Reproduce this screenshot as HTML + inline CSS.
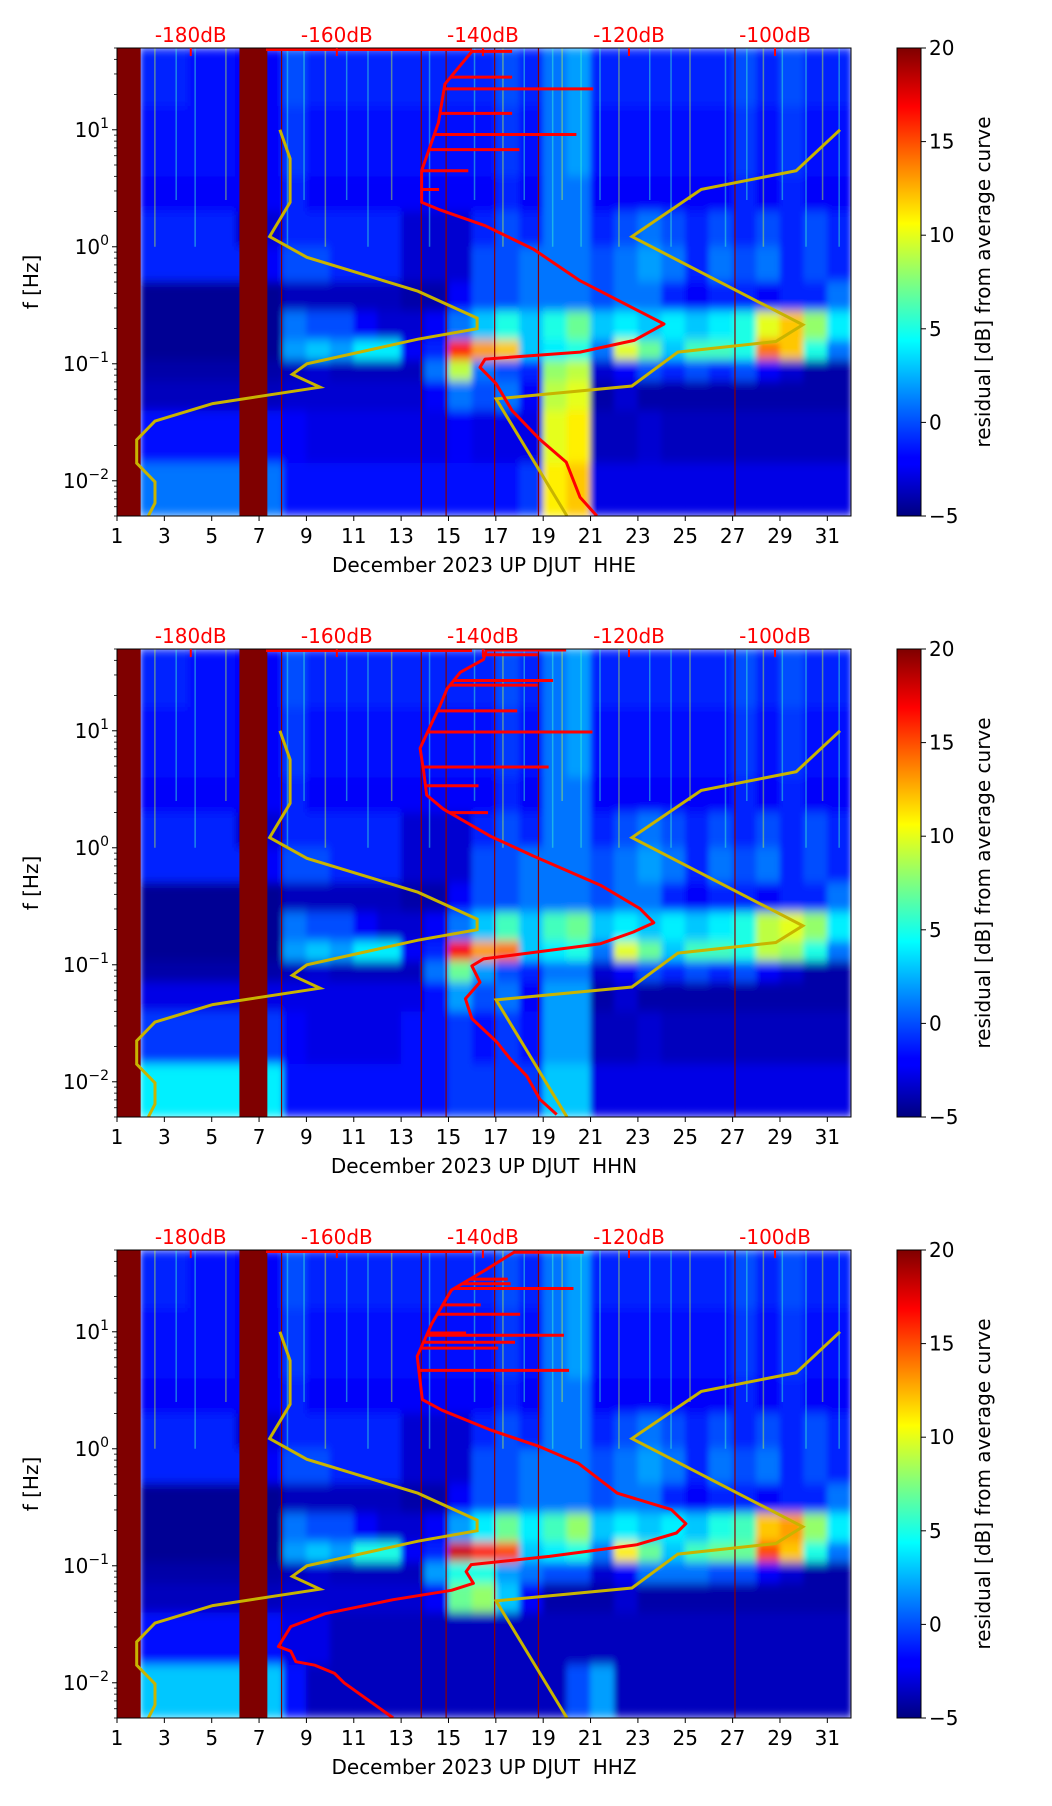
<!DOCTYPE html>
<html><head><meta charset="utf-8"><title>Residual spectrograms DJUT</title>
<style>
html,body{margin:0;padding:0;background:#fff;}
svg{display:block;font-family:"DejaVu Sans","Liberation Sans",sans-serif;}
text{white-space:pre;}
</style></head>
<body>
<svg id="fig" xmlns="http://www.w3.org/2000/svg" width="1052" height="1806" viewBox="0 0 1052 1806">
<defs>
<linearGradient id="jetGrad" x1="0" y1="1" x2="0" y2="0">
<stop offset="0" stop-color="#00007f"/><stop offset="0.11" stop-color="#0000ff"/>
<stop offset="0.125" stop-color="#0000ff"/><stop offset="0.375" stop-color="#00ffff"/>
<stop offset="0.5" stop-color="#7fff7f"/><stop offset="0.625" stop-color="#ffff00"/>
<stop offset="0.875" stop-color="#ff0000"/><stop offset="1" stop-color="#7f0000"/>
</linearGradient>
<filter id="smooth" x="0" y="0" width="1" height="1"><feGaussianBlur stdDeviation="3 5" edgeMode="duplicate"/></filter>
</defs>
</svg>
<script>
// ---------- data ----------
const panelNames = ["HHE","HHN","HHZ"];
const dayTicks = [1,3,5,7,9,11,13,15,17,19,21,23,25,27,29,31];
const dbTicks = [-180,-160,-140,-120,-100];
const cbTicks = [-5,0,5,10,15,20];
const freqEdges = [1.7,1.2,0.6,0.3,0.0,-0.3,-0.55,-0.8,-0.97,-1.15,-1.4,-1.85,-2.3]; // log10 Hz
const gapDays = [[1,2],[6.17,7.35]];
const darkLineDays = [7.95,13.85,14.9,16.95,18.8,27.1];
const streakDays = [2.6,3.5,4.3,5.6,8.2,8.9,9.8,10.7,11.6,12.6,14.2,16.1,17.3,18.2,19.4,19.8,20.6,21.4,22.2,23.5,24.4,25.2,26.7,27.6,28.3,29.1,30.1,30.8,31.5];
// heatmap rows (days 2..31)
const rowTop0 = [-1,-1,-1.5,-1.5,-2,-2,0,-1,-1,-1,-1,-1,-1,-1,-1,0,-1,1,2,-1,-1,-1,-1,-1,-1,0,-1,0,-1,-1];
const rowTop1 = [-1.5,-1.5,-1.5,-1.5,-2,-2,-0.5,-1.5,-1.5,-1.5,-1.5,-1.5,-1.5,-1.5,-1.5,-0.5,-1.5,1,2,-1.5,-1.5,-1.5,-1.5,-1.5,-1.5,-0.5,-1.5,-0.5,-1.5,-1.5];
const rowTop2 = [-2,-2,-2,-2,-2,-2,-1,-2,-2,-2,-2,-2,-2,-2,-2,-1,-2,1,1,-2,-2,-2,-2,-2,-2,-1,-2,-1,-2,-2];
const rowMid3 = [-1,-1,-1,-1,-3,-3,-1,-1,-1,-1,-1,-3,-3,-3,-1,0,-1,1,1,-1,0,1,0,-1,0,-1,0,-1,0,-1];
const rowMid4 = [-1,-1,-1,-1,-1,-2,0,0,-1,-1,-1,-3,-3,-3,0,0,1,1,1,0,1,2,1,-1,1,0,1,-1,0,-1];
const hheLow = [
 [-4.5,-4.5,-4.5,-4.5,-4.5,-4.5,-3.5,-3.5,-3.5,-3.5,-3.5,-4,-4,-2,0,0,1,1,1,0,1,1,-1,-2,-1,-1,-2,-1,-1,1],
 [-4.5,-4.5,-4.5,-4.5,-4.5,-4.5,1,0,0,-2,-3,-3,-2,1,3,5,3,5,7,3,4,3,4,3,4,5,10,12,8,4],
 [-4.5,-4.5,-4.5,-4.5,-4.5,-4.5,2,3,2,4,4,-2,-1,16,13,12,3,4,5,1,10,7,3,6,6,5,14,12,5,1],
 [-4,-4,-4,-4,-4,-4,-3.5,-3,-3.5,-3.5,-3.5,-3.5,1,9,1,0,-1,8,9,-3,-2,0,-1,0,-1,0,-2,-3,-4,-4],
 [-3.5,-3.5,-3.5,-3.5,-3.5,-3.5,-3,-3,-3,-3,-3,-3,-2,1,0,1,-2,9,10,-4,-3,-4,-4,-4,-4,-4,-4,-4,-4,-4],
 [-1.5,-1.5,-1.5,-1.5,-1.5,-1.5,-2,-2.5,-2.5,-2.5,-2.5,-2.5,-2.5,-2,-2.5,-2.5,-2.5,10,11,-3.5,-3.5,-3,-3.5,-3.5,-3.5,-3.5,-3.5,-3.5,-3.5,-3.5],
 [1,1,1,1,1,1,-1.5,-1.5,-1.5,-1.5,-1.5,-1.5,-1.5,-1.5,-1.5,-1.5,-0.5,11,12,-2.5,-2.5,-2.5,-2.5,-2.5,-2.5,-2.5,-2.5,-2.5,-2.5,-2.5]];
const hhnLow = [
 [-4.5,-4.5,-4.5,-4.5,-4.5,-4.5,-3.5,-3.5,-3.5,-3.5,-3.5,-4,-4,-2,0,0,1,1,1,0,1,1,-1,-2,-1,-1,-2,-1,-1,1],
 [-4.5,-4.5,-4.5,-4.5,-4.5,-4.5,1,0,0,-2,-3,-3,-2,1,3,6,3,6,7,3,4,3,4,3,4,5,9,10,8,4],
 [-4.5,-4.5,-4.5,-4.5,-4.5,-4.5,2,3,2,4,4,-2,-1,17,13,14,3,4,5,1,10,7,3,6,6,5,9,8,5,1],
 [-4,-4,-4,-4,-4,-4,-3.5,-3,-3.5,-3.5,-3.5,-3.5,1,7,2,0,-1,1,1,-3,-2,0,-1,0,-1,0,-2,-3,-4,-4],
 [-2.5,-2.5,-2.5,-2.5,-2.5,-2.5,-2.5,-2.5,-2.5,-2.5,-2.5,-2.5,-1.5,2,0,1,-2,2,2,-4,-3,-4,-4,-4,-4,-4,-4,-4,-4,-4],
 [-0.5,-0.5,-0.5,-0.5,-0.5,-0.5,-2,-2.5,-2.5,-2.5,-2.5,-1.5,-1.5,-0.5,-1.5,-0.5,-1.5,2,2,-3.5,-3.5,-3,-3.5,-3.5,-3.5,-3.5,-3.5,-3.5,-3.5,-3.5],
 [4,4,4,4,4,4,-1.5,-1.5,-1.5,-1.5,-1.5,-1.5,-1.5,-0.5,-0.5,-0.5,-0.5,3,3,-2.5,-2.5,-2.5,-2.5,-2.5,-2.5,-2.5,-2.5,-2.5,-2.5,-2.5]];
const hhzLow = [
 [-4.5,-4.5,-4.5,-4.5,-4.5,-4.5,-3.5,-3.5,-3.5,-3.5,-3.5,-4,-4,-2,0,0,1,1,1,0,1,1,-1,-2,-1,-1,-2,-1,-1,1],
 [-4.5,-4.5,-4.5,-4.5,-4.5,-4.5,1,0,0,-2,-3,-3,-2,2,4,7,4,6,8,3,4,3,4,3,5,6,12,13,8,4],
 [-4.5,-4.5,-4.5,-4.5,-4.5,-4.5,2,3,2,5,5,-2,-1,18,16,15,3,4,5,1,11,7,3,6,7,7,15,12,5,1],
 [-4,-4,-4,-4,-4,-4,-3.5,-3,-3.5,-3.5,-3.5,-3.5,2,5,5,2,1,0,0,-3,-2,1,1,1,0,0,-2,-3,-4,-4],
 [-3.5,-3.5,-3.5,-3.5,-3.5,-3.5,-3,-3,-3,-3,-3,-3,-2,7,8,3,-2,-4,-4,-4,-3,-4,-4,-4,-4,-4,-4,-4,-4,-4],
 [-1.5,-1.5,-1.5,-1.5,-1.5,-1.5,-2.5,-2.5,-3.5,-3.5,-3.5,-3.5,-3.5,-3.5,-3.5,-3.5,-3.5,-3.5,-3.5,-3.5,-3.5,-3.5,-3.5,-3.5,-3.5,-3.5,-3.5,-3.5,-3.5,-3.5],
 [3,3,3,3,3,3,-1.5,-3.5,-3.5,-3.5,-3.5,-3.5,-3.5,-3.5,-3.5,-3.5,-3.5,-3.5,0,2,-3.5,-3.5,-3.5,-3.5,-3.5,-3.5,-3.5,-3.5,-3.5,-3.5]];
const heatRows = [
 [rowTop0,rowTop1,rowTop2,rowMid3,rowMid4].concat(hheLow),
 [rowTop0,rowTop1,rowTop2,rowMid3,rowMid4].concat(hhnLow),
 [rowTop0,rowTop1,rowTop2,rowMid3,rowMid4].concat(hhzLow)];
// red PSD curves (dB, log10 f)
const hheDb = [-141.5,-145.2,-146.1,-148.4,-148.4,-146.1,-139.7,-133.1,-126.7,-118.3,-115.2,-119.3,-126.7,-139.7,-140.4,-138.2,-136.0,-132.3,-128.6,-126.7,-124.4];
const hheLf = [1.67,1.39,1.06,0.65,0.38,0.32,0.18,-0.02,-0.29,-0.56,-0.66,-0.80,-0.90,-0.96,-1.03,-1.17,-1.40,-1.64,-1.84,-2.14,-2.30];
const hhnDb = [-139.5,-139.9,-143.1,-144.9,-145.9,-147.2,-148.6,-148.1,-147.7,-145.4,-139.0,-133.1,-123.9,-118.5,-116.6,-119.4,-123.9,-139.9,-141.5,-140.4,-142.4,-141.5,-138.1,-136.3,-134.0,-132.2,-129.9];
const hhnLf = [1.70,1.61,1.50,1.36,1.21,1.04,0.85,0.65,0.45,0.33,0.10,-0.07,-0.32,-0.52,-0.64,-0.72,-0.82,-0.95,-1.01,-1.15,-1.29,-1.46,-1.66,-1.80,-1.95,-2.15,-2.28];
const hhzDb = [-135.6,-139.6,-144.3,-147.0,-149.0,-148.3,-145.6,-138.9,-132.2,-126.9,-121.6,-114.2,-112.2,-113.5,-118.9,-130.9,-141.6,-142.3,-141.3,-144.3,-152.3,-161.6,-166.3,-168.0,-166.3,-165.6,-163.0,-160.3,-159.0,-152.3];
const hhzLf = [1.685,1.53,1.357,1.07,0.79,0.42,0.33,0.16,0.018,-0.125,-0.38,-0.52,-0.64,-0.72,-0.82,-0.92,-0.99,-1.05,-1.15,-1.21,-1.29,-1.41,-1.52,-1.69,-1.73,-1.82,-1.85,-1.92,-2.0,-2.3];
const spikeLf = [[1.67,1.45,1.35,1.14,0.96,0.83,0.65,0.49],[1.69,1.65,1.43,1.39,1.17,0.99,0.69,0.53,0.30],[1.68,1.45,1.41,1.37,1.23,1.15,0.99,0.97,0.91,0.86,0.67]];
const spikeDb = [[-136,-136,-124.9,-136,-127.2,-135,-142,-146],[-128.6,-132.5,-130.4,-132.5,-135.3,-125.0,-131.0,-140.6,-139.3],[-126.2,-136.6,-136.2,-127.6,-140.3,-134.9,-142.3,-128.9,-135.6,-137.9,-128.2]];
const topLineDb = [-169.7,-141.5];
// noise model polylines (dB, log10 f)
const lowModelDb = [-167.8,-166.4,-166.4,-169.2,-164.1,-148.9,-140.8,-140.8,-148.9,-164.1,-166.1,-162.3,-177.0,-184.9,-187.4,-187.4,-184.9,-184.9,-185.8];
const lowModelLf = [1.0,0.754,0.38,0.087,-0.09,-0.38,-0.61,-0.70,-0.79,-1.0,-1.09,-1.20,-1.34,-1.49,-1.65,-1.85,-2.01,-2.19,-2.30];
const highModelDb = [-91.1,-97.1,-110.1,-119.6,-96.2,-99.9,-113.3,-119.6,-138.2,-128.5];
const highModelLf = [1.0,0.65,0.49,0.087,-0.667,-0.81,-0.90,-1.19,-1.30,-2.30];
const curveDb = [hheDb,hhnDb,hhzDb];
const curveLf = [hheLf,hhnLf,hhzLf];

// ---------- layout ----------
const NS = "http://www.w3.org/2000/svg";
const svg = document.getElementById("fig");
const L = 117, R = 851, H = 468;
const tops = [48,649,1250];
const LFMAX = Math.log10(50), LFMIN = Math.log10(0.005);
const FS = 20;
function xDay(d){ return L + (d-1)*(R-L)/31; }
function xDb(db){ return L + (db+190.1)*(R-L)/100.5; }
function yLf(top,lf){ return top + (LFMAX-lf)/(LFMAX-LFMIN)*H; }
function jet(v){
  let t = Math.max(0,Math.min(1,(v+5)/25));
  const c = x => Math.round(255*Math.max(0,Math.min(1,x)));
  const r = c(Math.min(4*t-1.5, -4*t+4.5));
  const g = c(Math.min(4*t-0.5, -4*t+3.5));
  const b = c(Math.min(4*t+0.5, -4*t+2.5));
  return `rgb(${r},${g},${b})`;
}
function el(tag, attrs, parent){
  const e = document.createElementNS(NS, tag);
  for (const k in attrs) e.setAttribute(k, attrs[k]);
  (parent||svg).appendChild(e); return e;
}
function pts(top, dbs, lfs){ return dbs.map((d,i)=>xDb(d).toFixed(1)+","+yLf(top,lfs[i]).toFixed(1)).join(" "); }
function interpDb(dbs, lfs, lf){
  for (let i=0;i<lfs.length-1;i++){
    if ((lfs[i]-lf)*(lfs[i+1]-lf) <= 0){
      const t = (lf-lfs[i])/(lfs[i+1]-lfs[i]||1); return dbs[i]+t*(dbs[i+1]-dbs[i]);
    }
  }
  return dbs[0];
}

panelNames.forEach((name, p) => {
  const top = tops[p], bot = top + H;
  const g = el("g", {});
  
  
  const clip = el("clipPath", {id:"clip"+p}, g);
  el("rect", {x:L, y:top, width:R-L, height:H}, clip);
  const hm = el("g", {"clip-path":`url(#clip${p})`}, g);
  
  
  const cells = el("g", {filter:"url(#smooth)"}, hm);
  heatRows[p].forEach((row, r) => {
    row.forEach((v, c) => {
      const d = 2 + c;
      const rc = el("rect", {x:xDay(d)-0.3, y:yLf(top,freqEdges[r])-0.3, width:xDay(d+1)-xDay(d)+0.6,
        height:yLf(top,freqEdges[r+1])-yLf(top,freqEdges[r])+0.6, fill:jet(v)}, cells);
      
      
    });
  });
  streakDays.forEach((d, i) => {
    const s = el("line", {x1:xDay(d), x2:xDay(d), y1:top, y2:yLf(top, i%2 ? 0.4 : 0.0), stroke:i%3===0 ? "#c8ff40" : "#40ffd0", "stroke-width":1.5, opacity:0.45}, hm);
    
    
  });
  gapDays.forEach(gd => {
    const gr = el("rect", {x:xDay(gd[0]), y:top, width:xDay(gd[1])-xDay(gd[0]), height:H, fill:"#7f0000"}, hm);
    
    
  });
  darkLineDays.forEach(d => {
    const dl = el("line", {x1:xDay(d), x2:xDay(d), y1:top, y2:bot, stroke:"#8a0000", "stroke-width":1.2}, hm);
    
    
  });
  const lm = el("polyline", {points:pts(top, lowModelDb, lowModelLf), fill:"none", stroke:"#c8b400", "stroke-width":3}, hm);
  
  
  const hmod = el("polyline", {points:pts(top, highModelDb, highModelLf), fill:"none", stroke:"#c8b400", "stroke-width":3}, hm);
  
  
  const tl = el("line", {x1:xDb(topLineDb[0]), x2:xDb(topLineDb[1]), y1:top+1.5, y2:top+1.5, stroke:"#ff0000", "stroke-width":3}, hm);
  
  
  spikeLf[p].forEach((lf, i) => {
    const x0 = xDb(interpDb(curveDb[p], curveLf[p], lf));
    const sp = el("line", {x1:x0, x2:xDb(spikeDb[p][i]), y1:yLf(top,lf), y2:yLf(top,lf), stroke:"#ff0000", "stroke-width":3}, hm);
    
    
  });
  const rc = el("polyline", {points:pts(top, curveDb[p], curveLf[p]), fill:"none", stroke:"#ff0000", "stroke-width":3, "stroke-linejoin":"round"}, hm);
  
  
  const fr = el("rect", {x:L, y:top, width:R-L, height:H, fill:"none", stroke:"#000", "stroke-width":1}, g);
  
  
  dayTicks.forEach(d => {
    const x = xDay(d);
    el("line", {x1:x, x2:x, y1:bot, y2:bot+5, stroke:"#000"}, g);
    const t = el("text", {x:x, y:bot+27, "text-anchor":"middle", "font-size":FS}, g);
    t.textContent = d;
    
    
  });
  const xl = el("text", {x:484, y:bot+56, "text-anchor":"middle", "font-size":FS}, g);
  xl.textContent = "December 2023 UP DJUT  " + name;
  
  
  for (let e=-3; e<=1; e++){
    for (let m=1; m<=9; m++){
      const lf = e + Math.log10(m);
      if (lf < LFMIN-1e-9 || lf > LFMAX+1e-9) continue;
      const y = yLf(top, lf);
      el("line", {x1:L-(m===1?5:3), x2:L, y1:y, y2:y, stroke:"#000", "stroke-width":m===1?1:0.8}, g);
      if (m===1){
        const t = el("text", {x:L-8, y:y+7, "text-anchor":"end", "font-size":FS}, g);
        t.textContent = "10";
        const s = el("tspan", {dy:-9, "font-size":14}, t);
        s.textContent = e<0 ? "\u2212"+(-e) : String(e);
        
        
      }
    }
  }
  const yl = el("text", {x:38, y:top+H/2, "text-anchor":"middle", "font-size":FS, transform:`rotate(-90 38 ${top+H/2})`}, g);
  yl.textContent = "f [Hz]";
  
  
  dbTicks.forEach(db => {
    const x = xDb(db);
    el("line", {x1:x, x2:x, y1:top, y2:top+8, stroke:"#ff0000", "stroke-width":2}, g);
    const t = el("text", {x:x, y:top-6, "text-anchor":"middle", "font-size":FS, fill:"#ff0000"}, g);
    t.textContent = db + "dB";
    
    
  });
  const cbx = 897, cbw = 24;
  const cb = el("rect", {x:cbx, y:top, width:cbw, height:H, fill:"url(#jetGrad)", stroke:"#000", "stroke-width":1}, g);
  
  
  cbTicks.forEach(v => {
    const y = top + H - (v+5)/25*H;
    el("line", {x1:cbx+cbw, x2:cbx+cbw+5, y1:y, y2:y, stroke:"#000"}, g);
    const t = el("text", {x:cbx+cbw+8, y:y+7, "font-size":FS}, g);
    t.textContent = v<0 ? "\u2212"+(-v) : v;
    
    
  });
  const cl = el("text", {x:990, y:top+H/2, "text-anchor":"middle", "font-size":FS, transform:`rotate(-90 990 ${top+H/2})`}, g);
  cl.textContent = "residual [dB] from average curve";
  
  
});
</script>
</body></html>
